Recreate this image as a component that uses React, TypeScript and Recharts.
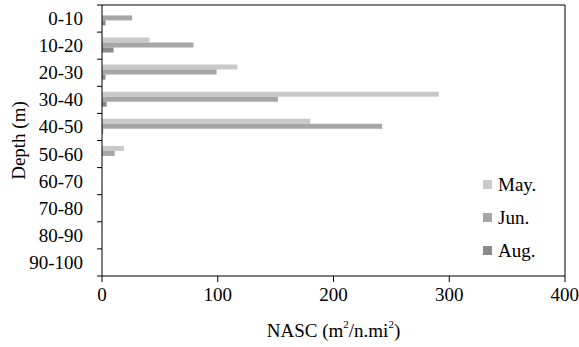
import { Bar, BarChart, XAxis, YAxis, CartesianGrid } from "recharts"

const categories = ["0-10", "10-20", "20-30", "30-40", "40-50", "50-60", "60-70", "70-80", "80-90", "90-100"]
const may = [0, 41, 117, 291, 180, 19, 0, 0, 0, 0]
const jun = [26, 79, 99, 152, 242, 11, 0, 0, 0, 0]
const aug = [3, 10, 3, 4, 1, 0, 0, 0, 0, 0]
const xTicks = [0, 100, 200, 300, 400]

const data = categories.map((depth, i) => ({ depth, may: may[i], jun: jun[i], aug: aug[i] }))

const series = [
  { key: "may", name: "May.", color: "#c9c9c9" },
  { key: "jun", name: "Jun.", color: "#a6a6a6" },
  { key: "aug", name: "Aug.", color: "#8a8a8a" },
]

const W = 579
const H = 347
const TOP = 5
const LEFT = 102
const RIGHT = 14
const XAXIS_H = 71
const band = (H - TOP - XAXIS_H) / categories.length
const font = "'Liberation Serif', 'Times New Roman', serif"
const FS = 19

function DepthTick(props: any) {
  const { y, payload, index } = props
  return (
    <g>
      <text x={LEFT - 19} y={y} textAnchor="end" dominantBaseline="central" fontSize={FS} fill="#000" fontFamily={font}>
        {payload.value}
      </text>
      <line x1={LEFT - 5} x2={LEFT} y1={y - band / 2} y2={y - band / 2} stroke="#000" />
      {index === categories.length - 1 && (
        <line x1={LEFT - 5} x2={LEFT} y1={y + band / 2} y2={y + band / 2} stroke="#000" />
      )}
    </g>
  )
}

function NascLabel(props: any) {
  const { viewBox } = props
  const cx = viewBox.x + viewBox.width / 2
  return (
    <text x={cx} y={H - 17} textAnchor="middle" dominantBaseline="central" fontSize={FS} fill="#000" fontFamily={font}>
      NASC (m
      <tspan dy={-6} fontSize={11}>2</tspan>
      <tspan dy={6}>/n.mi</tspan>
      <tspan dy={-6} fontSize={11}>2</tspan>
      <tspan dy={6}>)</tspan>
    </text>
  )
}

function DepthLabel(props: any) {
  const { viewBox } = props
  const cy = viewBox.y + viewBox.height / 2
  return (
    <text x={18} y={cy} transform={`rotate(-90, 18, ${cy})`} textAnchor="middle" dominantBaseline="central" fontSize={FS} fill="#000" fontFamily={font}>
      Depth (m)
    </text>
  )
}

function MonthLegend() {
  return (
    <div style={{ position: "absolute", left: 483, top: 168, fontFamily: font, fontSize: FS, color: "#000" }}>
      {series.map((s) => (
        <div key={s.key} style={{ display: "flex", alignItems: "center", height: 33 }}>
          <span style={{ width: 9, height: 9, background: s.color, marginRight: 6 }} />
          <span>{s.name}</span>
        </div>
      ))}
    </div>
  )
}

export default function App() {
  return (
    <div style={{ position: "absolute", left: 0, top: 0, width: W, height: H, background: "#fff" }}>
      <BarChart
        width={W}
        height={H}
        data={data}
        layout="vertical"
        margin={{ top: TOP, right: RIGHT, left: 0, bottom: 0 }}
        barCategoryGap="20%"
        barGap={0}
      >
        <CartesianGrid stroke="#000" horizontalPoints={[TOP]} verticalPoints={[W - RIGHT]} />
        <XAxis
          type="number"
          domain={[0, 400]}
          ticks={xTicks}
          height={XAXIS_H}
          stroke="#000"
          tickSize={6}
          tick={{ fontSize: FS, fill: "#000", fontFamily: font }}
          tickMargin={6}
          label={<NascLabel />}
        />
        <YAxis
          type="category"
          dataKey="depth"
          width={LEFT}
          stroke="#000"
          tickLine={false}
          tick={<DepthTick />}
          interval={0}
          label={<DepthLabel />}
        />
        {series.map((s) => (
          <Bar key={s.key} dataKey={s.key} name={s.name} fill={s.color} isAnimationActive={false} />
        ))}
      </BarChart>
      <MonthLegend />
    </div>
  )
}
